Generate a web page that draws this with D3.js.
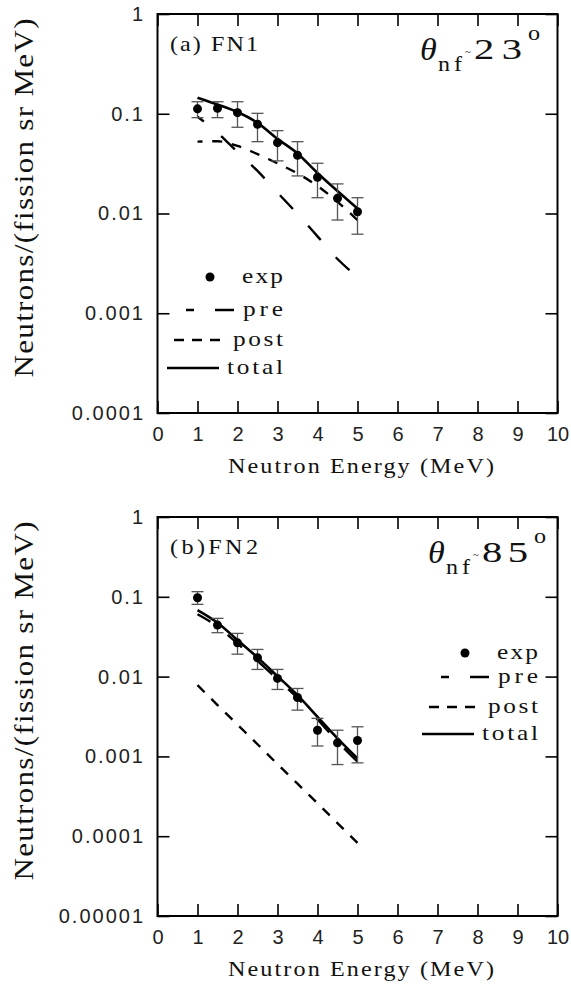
<!DOCTYPE html>
<meta charset="utf-8">
<style>
  body { margin: 0; padding: 0; background: #fff; }
  svg { display: block; }
  .serif { font-family: "Liberation Serif", "DejaVu Serif", "Times New Roman", serif; fill: #111; }
  .tick text { font-family: "Liberation Sans", Arial, sans-serif; font-size: 20px; fill: #222; }
  .ylab .tick text { letter-spacing: 2px; }
</style>
<script src="https://d3js.org/d3.v7.min.js"></script>
<body>
<div id="chart"></div>
<script>

// neutron energies (MeV) of the experimental points and model curves
var energy = [1, 1.5, 2, 2.5, 3, 3.5, 4, 4.5, 5];

// panel (a) FN1, theta ~ 23 deg
var expA   = [0.112, 0.1135, 0.1026, 0.0785, 0.0513, 0.0384, 0.0231, 0.0142, 0.0104];
var errHiA = [0.132, 0.132, 0.132, 0.101, 0.0677, 0.0525, 0.0319, 0.0198, 0.0144];
var errLoA = [0.0914, 0.0914, 0.0732, 0.0525, 0.0337, 0.0238, 0.0144, 0.0086, 0.0062];
var preEnergyA = [1, 1.5, 2, 2.5, 3, 3.5, 4, 4.5, 4.8];
var preA   = [0.0935, 0.0646, 0.0413, 0.0267, 0.0162, 0.0099, 0.0059, 0.0035, 0.0027];
var postA  = [0.0525, 0.053, 0.0476, 0.0394, 0.0318, 0.0252, 0.0189, 0.0131, 0.0086];
var totalA = [0.145, 0.124, 0.104, 0.081, 0.056, 0.040, 0.0255, 0.0168, 0.0112];

// panel (b) FN2, theta ~ 85 deg
var expB   = [0.0973, 0.0442, 0.0265, 0.0172, 0.0095, 0.00548, 0.00213, 0.00148, 0.00158];
var errHiB = [0.116, 0.0537, 0.0348, 0.0219, 0.0123, 0.0071, 0.0030, 0.00213, 0.00235];
var errLoB = [0.0804, 0.0355, 0.0191, 0.0123, 0.0069, 0.0038, 0.00135, 0.00079, 0.00083];
var preB   = [0.0605, 0.0425, 0.026, 0.0158, 0.0092, 0.0054, 0.0029, 0.00154, 0.00086];
var postB  = [0.0078, 0.0044, 0.0025, 0.00142, 0.0008, 0.000455, 0.000258, 0.000146, 0.0000826];
var totalB = [0.0682, 0.0473, 0.0287, 0.0174, 0.0101, 0.00586, 0.00313, 0.00168, 0.00094];

// axis ticks
var xTickValues = [0, 1, 2, 3, 4, 5, 6, 7, 8, 9, 10];
var xTickLabels = ["0", "1", "2", "3", "4", "5", "6", "7", "8", "9", "10"];
var yTicksA  = [1, 0.1, 0.01, 0.001, 0.0001];
var yLabelsA = ["1", "0.1", "0.01", "0.001", "0.0001"];
var yTicksB  = [1, 0.1, 0.01, 0.001, 0.0001, 0.00001];
var yLabelsB = ["1", "0.1", "0.01", "0.001", "0.0001", "0.00001"];

var legendNames = ["exp", "pre", "post", "total"];

var svg = d3.select("#chart").append("svg")
    .attr("width", 571)
    .attr("height", 988);

var x = d3.scaleLinear().domain([0, 10]).range([157.5, 557.5]);

var panels = [
  { top: 14, bottom: 413, domain: [0.0001, 1], ticks: yTicksA, labels: yLabelsA,
    exp: expA, hi: errHiA, lo: errLoA, preE: preEnergyA, pre: preA, post: postA, total: totalA,
    preStart: 11, postStart: 5,
    tag: "(a) FN1", angle: "23", thetaX: 420, numLen: 50,
    legRight: 283, legRows: [277, 310, 340, 368] },
  { top: 517, bottom: 916, domain: [0.00001, 1], ticks: yTicksB, labels: yLabelsB,
    exp: expB, hi: errHiB, lo: errLoB, preE: energy, pre: preB, post: postB, total: totalB,
    preStart: 4, postStart: 0,
    tag: "(b)FN2", angle: "85", thetaX: 428, numLen: 48,
    legRight: 538, legRows: [653, 677, 707, 734] }
];

panels.forEach(drawPanel);

// serif text, stretched a little to look like the wide original face
function serif(g, str, px, py, size, o) {
  o = o || {};
  var sx = o.sx || 1.15;
  var t = g.append("text").attr("class", "serif")
    .attr("transform", "translate(" + px + "," + py + ")" + (o.rot ? " rotate(" + o.rot + ")" : "") + " scale(" + sx + ",1)")
    .attr("font-size", size)
    .attr("text-anchor", o.anchor || "start")
    .text(str);
  if (o.width) t.attr("textLength", o.width / sx).attr("lengthAdjust", "spacing");
  if (o.italic) t.attr("font-style", "italic");
  return t;
}

// make the dash pattern end exactly on a dash, like the original plot
function fitDash(path, dash, gap, start) {
  var L = path.node().getTotalLength();
  var k = Math.max(1, Math.round((L + start - dash) / (dash + gap)));
  var P = (L + start - dash) / k;
  path.attr("stroke-dasharray", dash + "," + (P - dash)).attr("stroke-dashoffset", start);
}

function drawPanel(p) {
  var y = d3.scaleLog().domain(p.domain).range([p.bottom, p.top]);
  var g = svg.append("g");

  // x ticks (bottom with labels, top plain)
  g.append("g")
    .attr("transform", "translate(0," + p.bottom + ")")
    .call(d3.axisBottom(x).tickValues(xTickValues)
      .tickFormat(function(d, i) { return xTickLabels[i]; })
      .tickSizeInner(-12).tickSizeOuter(0).tickPadding(13.5))
    .call(function(a) { a.select(".domain").remove(); });
  g.append("g")
    .attr("transform", "translate(0," + p.top + ")")
    .call(d3.axisTop(x).tickValues(xTickValues).tickFormat("")
      .tickSizeInner(-12).tickSizeOuter(0))
    .call(function(a) { a.select(".domain").remove(); });

  // y ticks
  g.append("g")
    .attr("class", "ylab")
    .attr("transform", "translate(157.5,0)")
    .call(d3.axisLeft(y).tickValues(p.ticks)
      .tickFormat(function(d, i) { return p.labels[i]; })
      .tickSizeInner(-12).tickSizeOuter(0).tickPadding(12.5))
    .call(function(a) { a.select(".domain").remove(); });
  g.append("g")
    .attr("transform", "translate(557.5,0)")
    .call(d3.axisRight(y).tickValues(p.ticks).tickFormat("")
      .tickSizeInner(-12).tickSizeOuter(0))
    .call(function(a) { a.select(".domain").remove(); });

  g.selectAll(".tick line").attr("stroke-width", 1.6);

  // frame
  g.append("rect")
    .attr("x", 157.5).attr("y", p.top)
    .attr("width", 400).attr("height", p.bottom - p.top)
    .attr("fill", "none").attr("stroke", "#000").attr("stroke-width", 2);

  var line = d3.line()
    .x(function(d) { return x(d[0]); })
    .y(function(d) { return y(d[1]); })
    .curve(d3.curveMonotoneX);

  // model curves
  var prePath = g.append("path").datum(d3.zip(p.preE, p.pre))
    .attr("d", line).attr("fill", "none").attr("stroke", "#000")
    .attr("stroke-width", 2.4);
  fitDash(prePath, 19, 21, p.preStart);
  var postPath = g.append("path").datum(d3.zip(energy, p.post))
    .attr("d", line).attr("fill", "none").attr("stroke", "#000")
    .attr("stroke-width", 2.4);
  fitDash(postPath, 10, 9, p.postStart);
  g.append("path").datum(d3.zip(energy, p.total))
    .attr("d", line).attr("fill", "none").attr("stroke", "#000")
    .attr("stroke-width", 2.6);

  // error bars
  var bars = g.append("g").attr("stroke", "#555").attr("stroke-width", 1.3);
  energy.forEach(function(e, i) {
    var cx = x(e);
    bars.append("line").attr("x1", cx).attr("x2", cx)
      .attr("y1", y(p.lo[i])).attr("y2", y(p.hi[i]));
    bars.append("line").attr("x1", cx - 6).attr("x2", cx + 6)
      .attr("y1", y(p.lo[i])).attr("y2", y(p.lo[i]));
    bars.append("line").attr("x1", cx - 6).attr("x2", cx + 6)
      .attr("y1", y(p.hi[i])).attr("y2", y(p.hi[i]));
  });

  // experimental points
  g.selectAll("circle.pt").data(p.exp).enter().append("circle")
    .attr("class", "pt")
    .attr("cx", function(d, i) { return x(energy[i]); })
    .attr("cy", function(d) { return y(d); })
    .attr("r", 4.5).attr("fill", "#000");

  // legend
  var R = p.legRight, rows = p.legRows;
  var textLens = [41, 40, 50, 56];
  legendNames.forEach(function(name, i) {
    serif(g, name, R, rows[i] + 6, 22, { anchor: "end", width: textLens[i] });
  });
  g.append("circle").attr("cx", R - 73).attr("cy", rows[0]).attr("r", 4.5).attr("fill", "#000");
  g.append("line").attr("x1", R - 97).attr("x2", R - 46).attr("y1", rows[1]).attr("y2", rows[1])
    .attr("stroke", "#000").attr("stroke-width", 2.4)
    .attr("stroke-dasharray", "19,21").attr("stroke-dashoffset", 11);
  g.append("line").attr("x1", R - 109).attr("x2", R - 62).attr("y1", rows[2]).attr("y2", rows[2])
    .attr("stroke", "#000").attr("stroke-width", 2.4).attr("stroke-dasharray", "10,8");
  g.append("line").attr("x1", R - 116).attr("x2", R - 64).attr("y1", rows[3]).attr("y2", rows[3])
    .attr("stroke", "#000").attr("stroke-width", 2.4);

  // panel tag
  serif(g, p.tag, 170, p.top + 37, 21, { width: 88 });

  // angle annotation
  var tx = p.thetaX, t0 = p.top;
  serif(g, "\u03B8", tx, t0 + 46, 31, { italic: true, sx: 1.1 });
  serif(g, "nf", tx + 18, t0 + 57, 20, { width: 24, sx: 1.2 });
  serif(g, "~", tx + 45, t0 + 41, 11, { sx: 1 });
  serif(g, p.angle, tx + 54, t0 + 45, 29, { width: p.numLen - 2, sx: 1.4 });
  serif(g, "o", tx + 54 + p.numLen + 4, t0 + 26, 21, { sx: 1.15 });

  // axis titles
  serif(g, "Neutron Energy (MeV)", 361, p.bottom + 59.5, 21, { anchor: "middle", width: 266 });
  serif(g, "Neutrons/(fission sr MeV)", 33, p.top + 184, 27, { anchor: "middle", width: 359, rot: -90 });
}

</script>
</body>
